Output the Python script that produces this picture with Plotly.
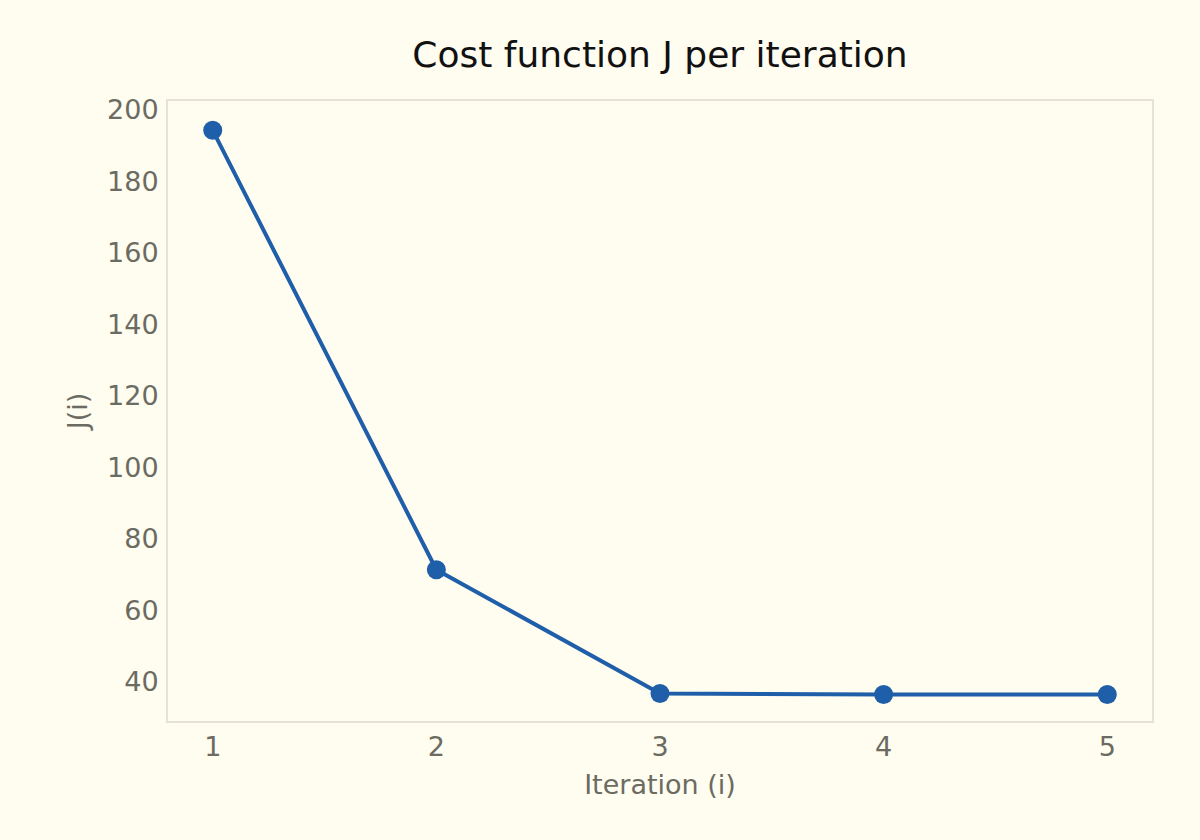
import plotly.graph_objects as go

# cost per iteration
iterations = [1, 2, 3, 4, 5]
cost = [194.3, 71.4, 36.8, 36.5, 36.5]
y_ticks = [40, 60, 80, 100, 120, 140, 160, 180, 200]

bg = "#fffcf0"
frame = "#e6e3d6"
grey = "#6b6b62"
font = "DejaVu Sans"

fig = go.Figure()
fig.add_trace(go.Scatter(
    x=iterations, y=cost,
    mode="lines+markers",
    line=dict(color="#1f5ea8", width=4),
    marker=dict(color="#1f5ea8", size=19),
    showlegend=False,
))

fig.update_layout(
    width=1200, height=840,
    paper_bgcolor=bg, plot_bgcolor=bg,
    margin=dict(l=168, r=48, t=101, b=119),
    font=dict(family=font, color=grey, size=27),
    title=dict(text="Cost function J per iteration", x=0.5, xref="paper",
               y=0.935, yanchor="middle",
               font=dict(family=font, size=36, color="#111111")),
)

fig.update_xaxes(
    range=[0.8, 5.2], tickvals=iterations,
    showgrid=False, zeroline=False, ticks="",
    showline=True, mirror=True, linecolor=frame, linewidth=2,
    tickfont=dict(size=27, color=grey), ticklabelstandoff=1,
    title=dict(text="Iteration (i)", standoff=14, font=dict(size=27, color=grey)),
)
fig.update_yaxes(
    range=[29.1, 202.5], tickvals=y_ticks,
    showgrid=False, zeroline=False, ticks="",
    showline=True, mirror=True, linecolor=frame, linewidth=2,
    tickfont=dict(size=27, color=grey), ticklabelstandoff=2,
    title=dict(text="J(i)", standoff=12, font=dict(size=27, color=grey)),
)

# drop the page margin so the figure sits at the window's corner
fig.write_html("out.html", config={"displayModeBar": False},
               post_script="document.body.style.margin='0';"
               "document.body.style.background='%s';" % bg)
